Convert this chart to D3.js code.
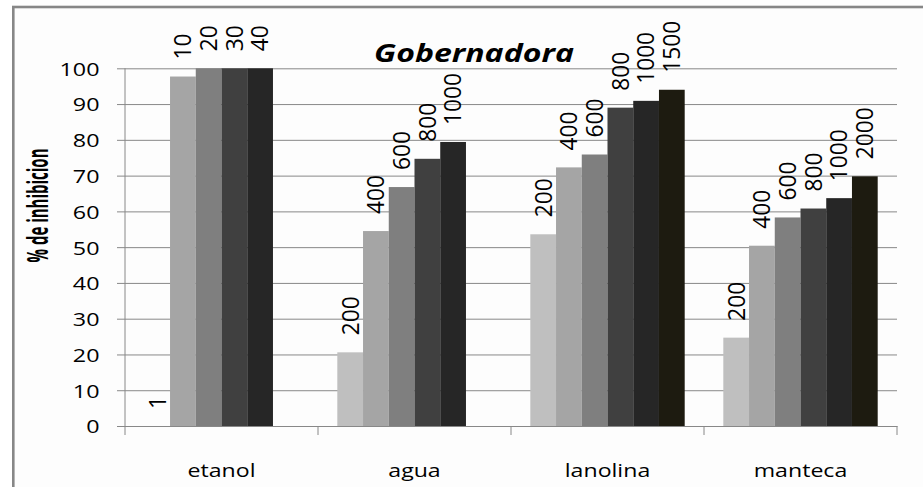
<!DOCTYPE html>
<html><head><meta charset="utf-8">
<script src="https://cdn.jsdelivr.net/npm/d3@7"></script>
<style>body{margin:0;background:#fff} text{font-family:"Open Sans",Lato,sans-serif;fill:#000}</style>
</head><body><svg id="c" width="923" height="487"></svg>
<script>
const categories = ["etanol", "agua", "lanolina", "manteca"];
const seriesKeys = ["s0", "s1", "s2", "s3", "s4", "s5"];
const s0Values = [0, 20.6, 53.6, 24.7];
const s1Values = [97.7, 54.5, 72.3, 50.4];
const s2Values = [100, 66.8, 75.9, 58.3];
const s3Values = [100, 74.7, 89.0, 60.8];
const s4Values = [100, 79.4, 90.9, 63.7];
const s5Values = [null, null, 94.0, 69.8];
const s0Labels = ["1", "200", "200", "200"];
const s1Labels = ["10", "400", "400", "400"];
const s2Labels = ["20", "600", "600", "600"];
const s3Labels = ["30", "800", "800", "800"];
const s4Labels = ["40", "1000", "1000", "1000"];
const s5Labels = [null, null, "1500", "2000"];
const seriesColors = ["#bfbfbf", "#a5a5a5", "#7f7f7f", "#404040", "#262626", "#1d1b10"];
const yTicks = [0, 10, 20, 30, 40, 50, 60, 70, 80, 90, 100];
const title = "Gobernadora";
const yTitle = "% de inhibicion";

const allValues = [s0Values, s1Values, s2Values, s3Values, s4Values, s5Values];
const allLabels = [s0Labels, s1Labels, s2Labels, s3Labels, s4Labels, s5Labels];

const svg = d3.select("#c");
const pLeft = 125, pRight = 897, pTop = 68.3, pBottom = 426;
const gridColor = "#888888";

function textLen(str, size, family, weight, style) {
  const t = svg.append("text").attr("font-size", size).attr("font-family", family)
    .attr("font-weight", weight || "normal").attr("font-style", style || "normal").text(str);
  const L = t.node().getComputedTextLength();
  t.remove();
  return L;
}
const REG = "'Open Sans'";

// frame
svg.append("rect").attr("x", 13.3).attr("y", 7).attr("width", 940).attr("height", 520)
  .attr("fill", "#fdfdfd").attr("stroke", "#878787").attr("stroke-width", 2.6);

const x = d3.scaleBand().domain(categories).range([pLeft, pRight]).paddingInner(0).paddingOuter(0);
const xs = d3.scaleBand().domain(seriesKeys).range([0, x.bandwidth()]).paddingInner(0).paddingOuter(0.75);
const y = d3.scaleLinear().domain([0, 100]).range([pBottom, pTop]);

// gridlines
const grid = svg.append("g").attr("transform", `translate(${pLeft},0)`)
  .call(d3.axisLeft(y).tickValues(yTicks).tickSize(-(pRight - pLeft)).tickFormat(""));
grid.select(".domain").remove();
grid.selectAll("line").attr("stroke", gridColor).attr("stroke-width", 1);

// bars
const rows = categories.map((c, i) => ({c, vals: seriesKeys.map((k, j) => ({k, j, v: allValues[j][i], lab: allLabels[j][i]}))}));
const cg = svg.selectAll("g.cat").data(rows).join("g").attr("class", "cat")
  .attr("transform", d => `translate(${x(d.c)},0)`);
cg.selectAll("rect").data(d => d.vals.filter(e => e.v !== null)).join("rect")
  .attr("x", e => xs(e.k)).attr("width", xs.bandwidth())
  .attr("y", e => y(e.v)).attr("height", e => y(0) - y(e.v))
  .attr("fill", e => seriesColors[e.j]);

// data labels: "1000" spans ~52px along text, digit height ~16.7px across
const labSize = 20 * 52 / textLen("1000", 20, REG);
const labSx = 16.7 / (0.714 * labSize);
const labGap = 17;
cg.selectAll("text.lab").data(d => d.vals.filter(e => e.v !== null)).join("text").attr("class", "lab")
  .attr("font-size", labSize).attr("font-family", REG)
  .attr("transform", e => `translate(${xs(e.k) + xs.bandwidth() / 2 + 0.714 * labSize * labSx / 2},${y(e.v) - labGap}) scale(${labSx},1) rotate(-90)`)
  .text(e => e.lab);

// y axis
const tickSize = 19;
const tickSx = 40 / textLen("100", tickSize, REG);
const ya = svg.append("g").attr("transform", `translate(${pLeft},0)`)
  .call(d3.axisLeft(y).tickValues(yTicks).tickSize(8).tickPadding(17));
ya.select(".domain").attr("stroke", gridColor).attr("d", `M0,${pBottom}V${pTop}`);
ya.selectAll("line").attr("stroke", gridColor);
ya.selectAll("text").attr("font-size", tickSize).attr("font-family", REG).attr("fill", "#000")
  .attr("x", -25.5 / tickSx).attr("dy", "0.36em").attr("transform", `scale(${tickSx},1)`);

// x axis
const xa = svg.append("g").attr("transform", `translate(0,${pBottom})`)
  .call(d3.axisBottom(x).tickSize(0).tickPadding(0));
xa.select(".domain").attr("stroke", gridColor);
const catSize = 17.5;
const catSx = 68 / textLen("etanol", catSize, REG);
xa.selectAll("text").attr("font-size", catSize).attr("font-family", REG).attr("fill", "#000")
  .attr("y", 0).attr("dy", 0)
  .attr("transform", `translate(0,50.7) scale(${catSx},1)`);
xa.selectAll("line.bnd").data(categories.concat([null])).join("line").attr("class", "bnd")
  .attr("x1", (d, i) => i < categories.length ? x(d) : x(categories[i - 1]) + x.bandwidth())
  .attr("x2", (d, i) => i < categories.length ? x(d) : x(categories[i - 1]) + x.bandwidth())
  .attr("y1", 0).attr("y2", 9).attr("stroke", gridColor);

// title
const tSize = 25.5;
const tSx = 200 / textLen(title, tSize, "Lato", "bold", "italic");
svg.append("text").attr("font-size", tSize).attr("font-family", "Lato").attr("font-weight", "bold").attr("font-style", "italic")
  .attr("text-anchor", "middle")
  .attr("transform", `translate(474,61.7) scale(${tSx},1)`).text(title);

// y title: ~114px long, ascender height ~20px across
const ytSize = 18 * 114 / textLen(yTitle, 18, "Lato", "bold");
const ytSx = 20 / (0.72 * ytSize);
svg.append("text").attr("font-size", ytSize).attr("font-family", "Lato").attr("font-weight", "bold").attr("text-anchor", "middle")
  .attr("transform", `translate(48.3,205.5) scale(${ytSx},1) rotate(-90)`).text(yTitle);
</script></body></html>
